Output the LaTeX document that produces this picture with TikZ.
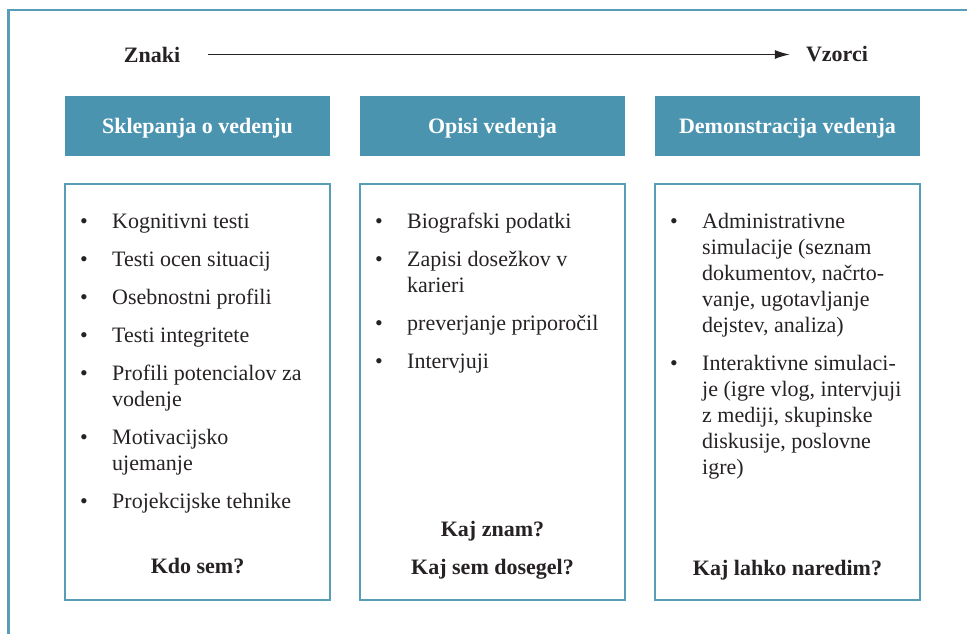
\documentclass[tikz,border=0pt]{standalone}
\usepackage{fontspec}
\setmainfont{Liberation Serif}
\usetikzlibrary{arrows.meta}
\definecolor{hdblue}{RGB}{75,148,176}
\definecolor{lnblue}{RGB}{88,157,184}
\definecolor{ink}{RGB}{38,34,35}

\begin{document}
\begin{tikzpicture}[x=1pt, y=-1pt, every node/.style={font=\fontsize{22}{26}\selectfont, text=ink, inner sep=0pt}, >={Latex[length=15pt, width=9pt]},
	head/.style={fill=hdblue, text=white, font=\fontsize{22}{26}\selectfont\bfseries, minimum width=265pt, minimum height=60pt, text height=15pt, text depth=0pt},
	panel/.style={draw=lnblue, line width=2pt, minimum width=265pt, minimum height=416pt},
	dot/.style={anchor=base},
	itm/.style={anchor=base west, align=left},
	ask/.style={anchor=base, font=\fontsize{22}{26}\selectfont\bfseries}]
	\useasboundingbox (0,0) rectangle (967,634);
	\draw[lnblue, line width=2.5pt] (8.5,634) -- (8.5,10) -- (967,10);
	% scale from signs to samples
	\node[font=\fontsize{22}{26}\selectfont\bfseries] (znaki) at (152,54.5) {Znaki};
	\node[font=\fontsize{22}{26}\selectfont\bfseries] (vzorci) at (837,54.5) {Vzorci};
	\draw[->, ink, line width=1.4pt, shorten <=28pt, shorten >=16pt] (znaki) -- (vzorci);
	% headers
	\node[head] (hd1) at (197.5,126) {Sklepanja o vedenju};
	\node[head] (hd2) at (492.5,126) {Opisi vedenja};
	\node[head] (hd3) at (787.5,126) {Demonstracija vedenja};
	% panels
	\node[panel] (bx1) at (197.5,392) {};
	\node[panel] (bx2) at (492.5,392) {};
	\node[panel] (bx3) at (787.5,392) {};
	% first column (multi-line items sit on their last baseline)
	\node[dot] (d11) at (84,228) {•};
	\node[itm] (t11) at (112,228) {Kognitivni testi};
	\node[dot] (d12) at (84,266) {•};
	\node[itm] (t12) at (112,266) {Testi ocen situacij};
	\node[dot] (d13) at (84,304) {•};
	\node[itm] (t13) at (112,304) {Osebnostni profili};
	\node[dot] (d14) at (84,342) {•};
	\node[itm] (t14) at (112,342) {Testi integritete};
	\node[dot] (d15) at (84,380) {•};
	\node[itm] (t15) at (112,406) {Profili potencialov za\\vodenje};
	\node[dot] (d16) at (84,444) {•};
	\node[itm] (t16) at (112,470) {Motivacijsko\\ujemanje};
	\node[dot] (d17) at (84,508) {•};
	\node[itm] (t17) at (112,508) {Projekcijske tehnike};
	\node[ask] (q1) at (197.5,573) {Kdo sem?};
	% second column
	\node[dot] (d21) at (379,228) {•};
	\node[itm] (t21) at (407,228) {Biografski podatki};
	\node[dot] (d22) at (379,266) {•};
	\node[itm] (t22) at (407,292) {Zapisi dosežkov v\\karieri};
	\node[dot] (d23) at (379,330) {•};
	\node[itm] (t23) at (407,330) {preverjanje priporočil};
	\node[dot] (d24) at (379,368) {•};
	\node[itm] (t24) at (407,368) {Intervjuji};
	\node[ask] (q2a) at (492.5,536) {Kaj znam?};
	\node[ask] (q2b) at (492.5,574) {Kaj sem dosegel?};
	% third column
	\node[dot] (d31) at (674,228) {•};
	\node[itm] (t31) at (702,332) {Administrativne\\simulacije (seznam\\dokumentov, načrto-\\vanje, ugotavljanje\\dejstev, analiza)};
	\node[dot] (d32) at (674,370) {•};
	\node[itm] (t32) at (702,474) {Interaktivne simulaci-\\je (igre vlog, intervjuji\\z mediji, skupinske\\diskusije, poslovne\\igre)};
	\node[ask] (q3) at (787.5,575) {Kaj lahko naredim?};
\end{tikzpicture}
\end{document}
